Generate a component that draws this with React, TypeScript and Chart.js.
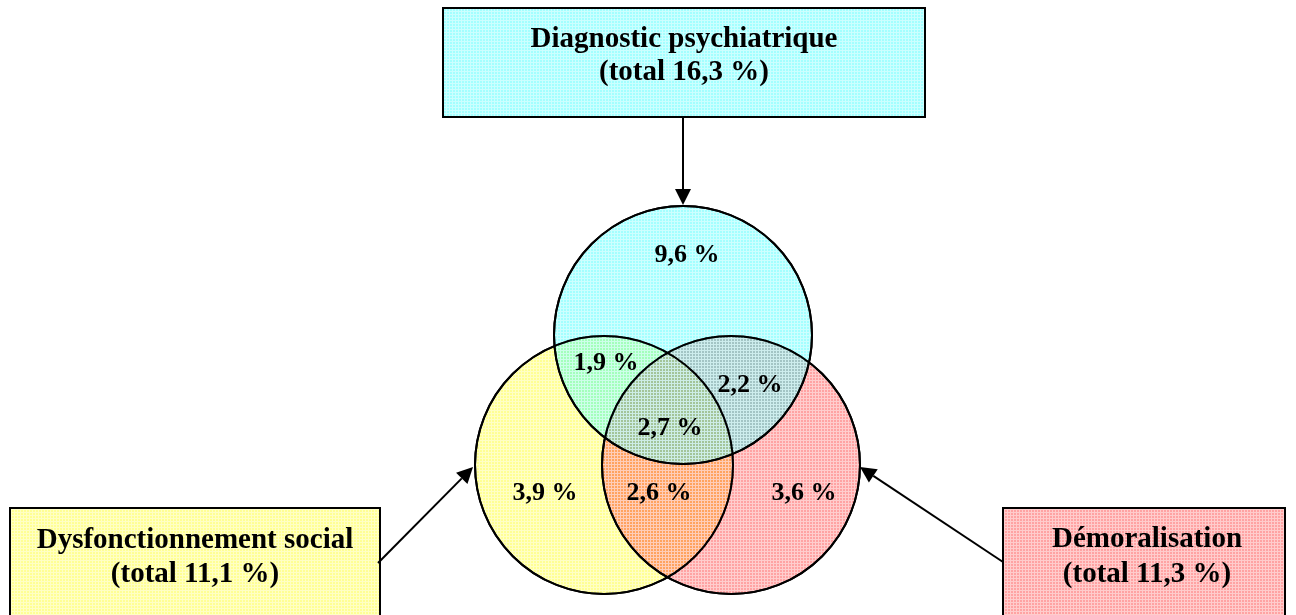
import React, { useEffect, useRef } from "react";
import { Chart, registerables } from "chart.js";

Chart.register(...registerables);

// ---- Data ----
const categories = ["Diagnostic psychiatrique", "Dysfonctionnement social", "Démoralisation"];
const totals = [16.3, 11.1, 11.3];
const regionNames = [
  "Diagnostic seul",
  "Dysfonctionnement seul",
  "Démoralisation seule",
  "Diagnostic + Dysfonctionnement",
  "Diagnostic + Démoralisation",
  "Dysfonctionnement + Démoralisation",
  "Les trois",
];
const regionValues = [9.6, 3.9, 3.6, 1.9, 2.2, 2.6, 2.7];

// ---- Layout (positions in canvas units) ----
const W = 1296;
const H = 615;
const circleCenters = [
  [683, 335],
  [604, 465],
  [731, 465],
];
const circleRadius = 129;
const regionAnchors = [
  [687, 262],
  [545, 500],
  [804, 500],
  [606, 370],
  [750, 392],
  [659, 500],
  [670, 435],
];
const boxes = [
  { x0: 443, y0: 8, x1: 925, y1: 117, cx: 684, b1: 47, b2: 80 },
  { x0: 10, y0: 508, x1: 380, y1: 640, cx: 195, b1: 548, b2: 582 },
  { x0: 1003, y0: 508, x1: 1285, y1: 640, cx: 1147, b1: 547, b2: 582 },
];
const arrows = [
  [683, 117, 683, 205],
  [378, 563, 473, 467],
  [1003, 562, 860, 467],
];
const circleColors = ["rgba(0,255,255,0.36)", "rgba(255,255,0,0.42)", "rgba(255,0,0,0.36)"];
const boxColors = ["rgb(163,255,255)", "rgb(255,255,148)", "rgb(255,163,163)"];

const fmt = (v: number) => v.toFixed(1).replace(".", ",") + " %";

function makePattern(color: string): CanvasPattern | string {
  const c = document.createElement("canvas");
  c.width = 3;
  c.height = 3;
  const g = c.getContext("2d");
  if (!g) return color;
  g.fillStyle = color;
  g.fillRect(0, 0, 3, 3);
  g.fillStyle = "rgba(255,255,255,0.45)";
  g.fillRect(2, 0, 1, 3);
  g.fillRect(0, 2, 2, 1);
  const p = g.createPattern(c, "repeat");
  return p || color;
}

const FONT = '"Liberation Serif", "Times New Roman", serif';

export default function App() {
  const ref = useRef<HTMLCanvasElement | null>(null);

  useEffect(() => {
    if (!ref.current) return;

    const overlay = {
      id: "vennOverlay",
      afterDatasetsDraw(chart: any) {
        const ctx: CanvasRenderingContext2D = chart.ctx;
        const xs = chart.scales.x;
        const ys = chart.scales.y;
        const px = (v: number) => xs.getPixelForValue(v);
        const py = (v: number) => ys.getPixelForValue(v);
        ctx.save();

        // re-stroke every circle outline above all fills
        chart.data.datasets.forEach((_: any, di: number) => {
          const meta = chart.getDatasetMeta(di);
          meta.data.forEach((el: any) => {
            ctx.beginPath();
            ctx.arc(el.x, el.y, el.options.radius, 0, Math.PI * 2);
            ctx.lineWidth = 2;
            ctx.strokeStyle = "#000";
            ctx.stroke();
          });
        });

        // boxes
        boxes.forEach((b, i) => {
          const x0 = px(b.x0), y0 = py(b.y0), x1 = px(b.x1), y1 = py(b.y1);
          ctx.fillStyle = makePattern(boxColors[i]) as any;
          ctx.fillRect(x0, y0, x1 - x0, y1 - y0);
          ctx.lineWidth = 2;
          ctx.strokeStyle = "#000";
          ctx.strokeRect(x0, y0, x1 - x0, y1 - y0);
          ctx.fillStyle = "#000";
          ctx.textAlign = "center";
          ctx.textBaseline = "alphabetic";
          ctx.font = `bold 29px ${FONT}`;
          ctx.fillText(categories[i], px(b.cx), py(b.b1));
          ctx.fillText(`(total ${fmt(totals[i])})`, px(b.cx), py(b.b2));
        });

        // arrows
        arrows.forEach((a) => {
          const x0 = px(a[0]), y0 = py(a[1]), x1 = px(a[2]), y1 = py(a[3]);
          const ang = Math.atan2(y1 - y0, x1 - x0);
          const len = 16, half = 8;
          const bx = x1 - len * Math.cos(ang), by = y1 - len * Math.sin(ang);
          ctx.strokeStyle = "#000";
          ctx.lineWidth = 2;
          ctx.beginPath();
          ctx.moveTo(x0, y0);
          ctx.lineTo(bx, by);
          ctx.stroke();
          ctx.fillStyle = "#000";
          ctx.beginPath();
          ctx.moveTo(x1, y1);
          ctx.lineTo(bx + half * Math.sin(ang), by - half * Math.cos(ang));
          ctx.lineTo(bx - half * Math.sin(ang), by + half * Math.cos(ang));
          ctx.closePath();
          ctx.fill();
        });

        // region labels
        ctx.fillStyle = "#000";
        ctx.textAlign = "center";
        ctx.textBaseline = "alphabetic";
        ctx.font = `bold 26px ${FONT}`;
        regionValues.forEach((v, i) => {
          ctx.fillText(fmt(v), px(regionAnchors[i][0]), py(regionAnchors[i][1]));
        });
        ctx.restore();
      },
    };

    // higher order is drawn first: yellow bottom, red middle, cyan on top
    const order = [0, 2, 1];
    const datasets = [0, 1, 2].map((i) => ({
      label: categories[i],
      data: [{ x: circleCenters[i][0], y: circleCenters[i][1], r: circleRadius }],
      backgroundColor: makePattern(circleColors[i]) as any,
      borderColor: "#000",
      borderWidth: 2,
      hoverRadius: 0,
      order: order[i],
      clip: false as any,
    }));

    const chart = new Chart(ref.current, {
      type: "bubble",
      data: { datasets },
      options: {
        animation: false,
        responsive: true,
        maintainAspectRatio: false,
        events: [],
        layout: { padding: 0, autoPadding: false },
        plugins: { legend: { display: false }, tooltip: { enabled: false }, title: { display: false } },
        scales: {
          x: { type: "linear", min: 0, max: W, display: false },
          y: { type: "linear", min: 0, max: H, reverse: true, display: false },
        },
      },
      plugins: [overlay],
    });
    (chart as any).__regions = regionNames;
    return () => chart.destroy();
  }, []);

  return (
    <div style={{ position: "absolute", left: 0, top: 0, width: W, height: H, background: "#fff" }}>
      <canvas ref={ref} />
    </div>
  );
}
